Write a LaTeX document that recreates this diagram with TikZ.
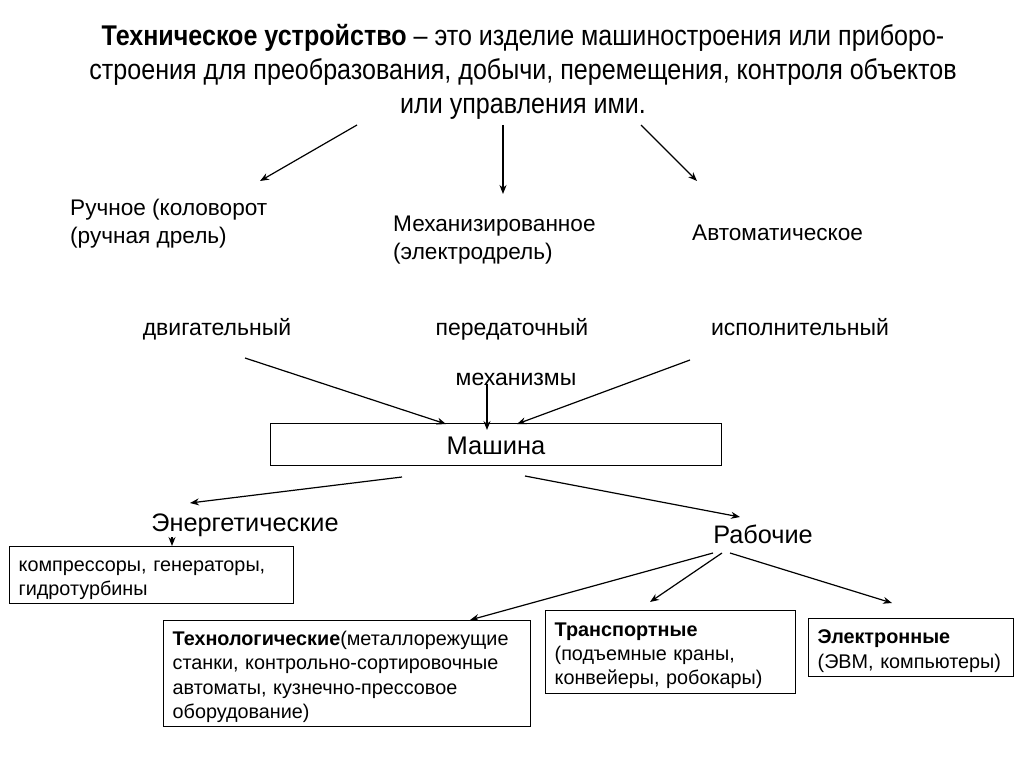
\documentclass[tikz,border=0pt]{standalone}
\usepackage{fontspec}
\setmainfont{Liberation Sans}
\newfontfamily\narrowfont{Liberation Sans}[FakeStretch=0.88]
\usetikzlibrary{arrows.meta}
\tikzset{
  x=1pt, y=-1pt,
  lbl/.style={inner sep=0pt, anchor=center},
  lblb/.style={inner sep=0pt, anchor=base},
  lblw/.style={inner sep=0pt, anchor=west, align=left},
  box/.style={draw, line width=1.3pt, anchor=north west, align=left, inner xsep=9pt, inner ysep=0pt,
    font=\fontsize{19.8}{24.3}\selectfont, execute at begin node={\rule{0pt}{21pt}}},
  arr/.style={line width=1.2pt, -{Stealth[length=9pt,width=7pt]}},
}
\begin{document}
\begin{tikzpicture}
\useasboundingbox[fill=white] (0,0) rectangle (1024,767);
% title
\node[lbl, align=center, font=\narrowfont\fontsize{28.5}{34}\selectfont] (title) at (523,72)
  {\textbf{Техническое устройство} – это изделие машиностроения или приборо-\\
   строения для преобразования, добычи, перемещения, контроля объектов\\
   или управления ими.};
% three kinds
\node[lblw, font=\fontsize{22.6}{28}\selectfont] (hand) at (70,224) {Ручное (коловорот\\(ручная дрель)};
\node[lblw, font=\fontsize{22.6}{28}\selectfont] (mech) at (393,240) {Механизированное\\(электродрель)};
\node[lblw, font=\fontsize{22.6}{28}\selectfont] (auto) at (692,233) {Автоматическое};
\coordinate (t1) at (357,125); \coordinate (e1) at (260,181);
\coordinate (t2) at (503,125); \coordinate (e2) at (503,194);
\coordinate (t3) at (641,125); \coordinate (e3) at (697,181);
\draw[arr] (t1) -- (e1);
\draw[arr] (t2) -- (e2);
\draw[arr] (t3) -- (e3);
% mechanisms
\node[lblb, font=\fontsize{23}{26}\selectfont] (dvig) at (217,335) {двигательный};
\node[lblb, font=\fontsize{23}{26}\selectfont] (pered) at (512,335) {передаточный};
\node[lblb, font=\fontsize{23}{26}\selectfont] (isp) at (800,335) {исполнительный};
\node[lblb, font=\fontsize{23}{26}\selectfont] (mz) at (516,385) {механизмы};
% machine
\node[draw, line width=1.3pt, minimum width=451pt, minimum height=42pt, inner sep=0pt, anchor=north west] (mach) at (270,423) {};
\node[lbl, font=\fontsize{25.5}{28}\selectfont] (machT) at (496,446) {Машина};
\coordinate (d1) at (245,358); \coordinate (d2) at (446,424);
\coordinate (m1) at (487,384); \coordinate (m2) at (487,430);
\coordinate (i1) at (690,360); \coordinate (i2) at (517,424);
\draw[arr] (d1) -- (d2);
\draw[arr] (m1) -- (m2);
\draw[arr] (i1) -- (i2);
% energy / working
\node[lbl, font=\fontsize{25.3}{28}\selectfont] (energ) at (245,525) {Энергетические};
\node[lbl, font=\fontsize{25.3}{28}\selectfont] (rab) at (763,534) {Рабочие};
\coordinate (b1) at (402,477); \coordinate (b1e) at (190,503);
\coordinate (b2) at (525,476); \coordinate (b2e) at (740,517);
\draw[arr] (b1) -- (b1e);
\draw[arr] (b2) -- (b2e);
% boxes
\node[box, minimum width=284pt, minimum height=57pt, text width=266pt] (komp) at (9,546)
  {компрессоры, генераторы,\\гидротурбины};
\node[box, minimum width=367pt, minimum height=106pt, text width=349pt] (tech) at (163,620)
  {\textbf{Технологические}(металлорежущие\\станки, контрольно-сортировочные\\автоматы, кузнечно-прессовое\\оборудование)};
\node[box, minimum width=250pt, minimum height=83pt, text width=232pt] (trans) at (545,610)
  {\textbf{Транспортные}\\(подъемные краны,\\конвейеры, робокары)};
\node[box, minimum width=205pt, minimum height=58pt, text width=187pt] (elec) at (808,618)
  {\textbf{Электронные}\\(ЭВМ, компьютеры)};
% arrows to boxes
\coordinate (en1) at (172,537);
\draw[arr] (en1) -- (en1 |- komp.north);
\coordinate (r1) at (713,553); \coordinate (r2) at (722,553); \coordinate (r3) at (730,553);
\coordinate (r1e) at (470,620); \coordinate (r2e) at (650,602); \coordinate (r3e) at (892,603);
\draw[arr] (r1) -- (r1e);
\draw[arr] (r2) -- (r2e);
\draw[arr] (r3) -- (r3e);
\end{tikzpicture}
\end{document}
